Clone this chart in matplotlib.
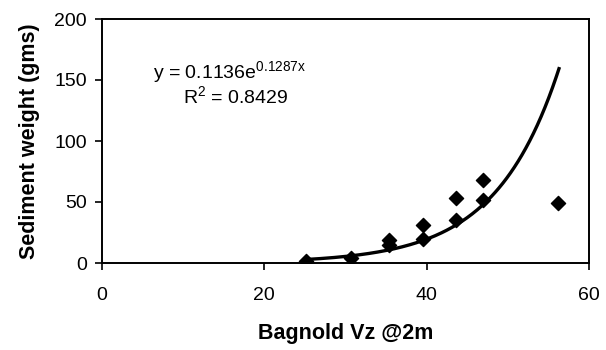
import numpy as np
import matplotlib
matplotlib.use("Agg")
import matplotlib.pyplot as plt

plt.rcParams["font.family"] = ["Liberation Sans", "DejaVu Sans"]
plt.rcParams["mathtext.fontset"] = "custom"
plt.rcParams["mathtext.rm"] = "Liberation Sans"
plt.rcParams["mathtext.it"] = "Liberation Sans"

vz = [25.1, 30.7, 35.4, 35.4, 39.6, 39.6, 43.6, 43.6, 46.9, 46.9, 56.2]
weight = [1.6, 4, 19, 15, 31, 20, 53.5, 35, 68, 52, 49.5]

fit_a = 0.1136
fit_b = 0.1287

fig = plt.figure(figsize=(6.06, 3.5), dpi=100)
ax = fig.add_axes([102 / 606, 1 - 263 / 350, 487 / 606, 244 / 350])

ax.scatter(vz, weight, marker="D", s=52, color="black", zorder=3)

xs = np.linspace(25.0, 56.3, 200)
ax.plot(xs, fit_a * np.exp(fit_b * xs), color="black", lw=2.4)

ax.set_xlim(0, 60)
ax.set_ylim(0, 200)
ax.set_xticks([0, 20, 40, 60])
ax.set_yticks([0, 50, 100, 150, 200])
ax.tick_params(labelsize=14, length=5, width=1.2, direction="out")
ax.tick_params(axis="x", pad=12)
ax.tick_params(axis="y", pad=6)
for s in ax.spines.values():
    s.set_linewidth(1.4)

ax.set_xlabel("Bagnold Vz @2m", fontsize=15.5, fontweight="bold", labelpad=14)
ax.set_ylabel("Sediment weight (gms)", fontsize=15.5, fontweight="bold", labelpad=10)

ax.text(0.105, 0.758, r"y = 0.1136e$^{\mathrm{0.1287x}}$", transform=ax.transAxes,
        fontsize=14, va="baseline")
ax.text(0.166, 0.656, r"R$^{\mathrm{2}}$ = 0.8429", transform=ax.transAxes,
        fontsize=14, va="baseline")

plt.savefig("out.png", dpi=100)
